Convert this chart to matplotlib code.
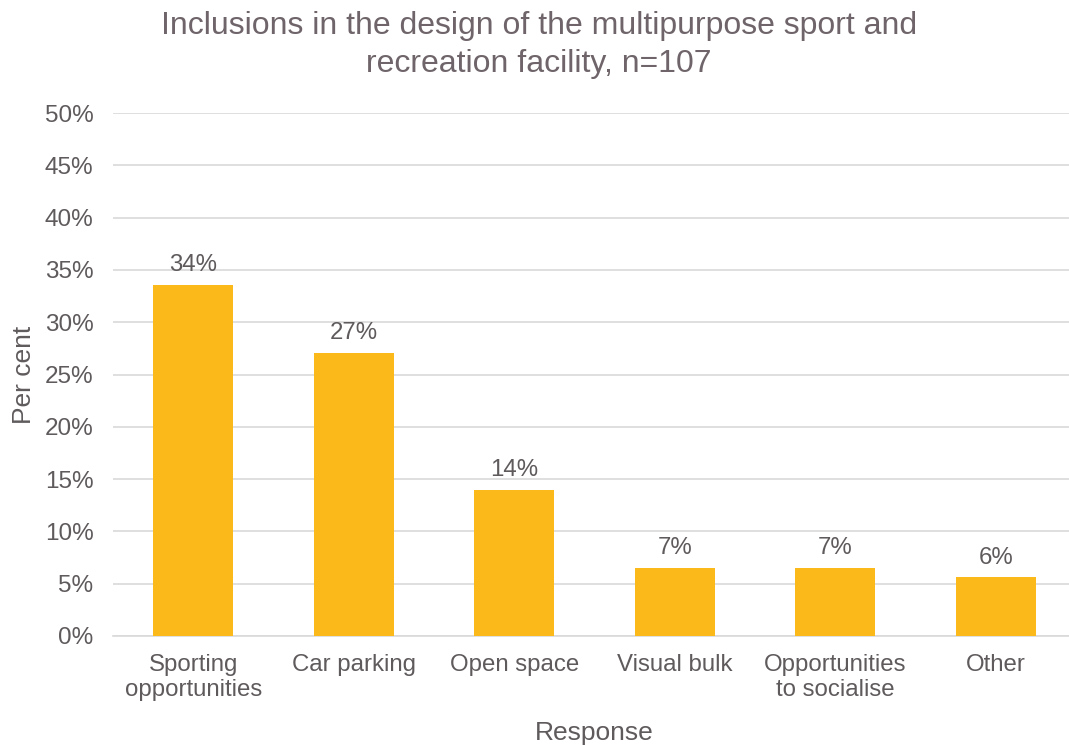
import matplotlib.pyplot as plt

categories = ['Sporting\nopportunities', 'Car parking', 'Open space', 'Visual bulk',
              'Opportunities\nto socialise', 'Other']
values = [33.6, 27.1, 14.0, 6.5, 6.5, 5.6]
labels = ['34%', '27%', '14%', '7%', '7%', '6%']
yticks = [0, 5, 10, 15, 20, 25, 30, 35, 40, 45, 50]

plt.rcParams['font.family'] = ['Liberation Sans', 'DejaVu Sans']
txt = '#5f5a5c'

fig = plt.figure(figsize=(10.69, 7.45), dpi=100)
ax = fig.add_axes([113/1069, 109/745, 963/1069, 523/745])

x = range(len(categories))
ax.bar(x, values, width=0.5, color='#FBB91A', zorder=3)
for i, v in enumerate(values):
    ax.text(i, v + 0.85, labels[i], ha='center', va='bottom', fontsize=17.3, color=txt)

ax.set_xlim(-0.5, len(categories) - 0.5)
ax.set_ylim(0, 50)
ax.set_yticks(yticks)
ax.set_yticklabels([f'{t}%' for t in yticks], fontsize=17.5, color=txt)
ax.set_xticks(list(x))
ax.set_xticklabels(categories, fontsize=17.3, color=txt, linespacing=1.2)
ax.tick_params(length=0)
ax.tick_params(axis='y', pad=14)
ax.tick_params(axis='x', pad=13)
ax.yaxis.grid(True, color='#d9d9d9', linewidth=1.2, zorder=0)
for s in ['top', 'right', 'left']:
    ax.spines[s].set_visible(False)
ax.spines['bottom'].set_color('#d9d9d9')
ax.spines['bottom'].set_linewidth(1.2)

ax.set_ylabel('Per cent', fontsize=19, color=txt, labelpad=6)
ax.set_xlabel('Response', fontsize=19, color=txt, labelpad=14)
fig.text(539/1069, 1 - 45/745, 'Inclusions in the design of the multipurpose sport and\nrecreation facility, n=107',
         ha='center', va='center', fontsize=23, color='#6E6469', linespacing=1.35)

fig.savefig('out.png', dpi=100)
